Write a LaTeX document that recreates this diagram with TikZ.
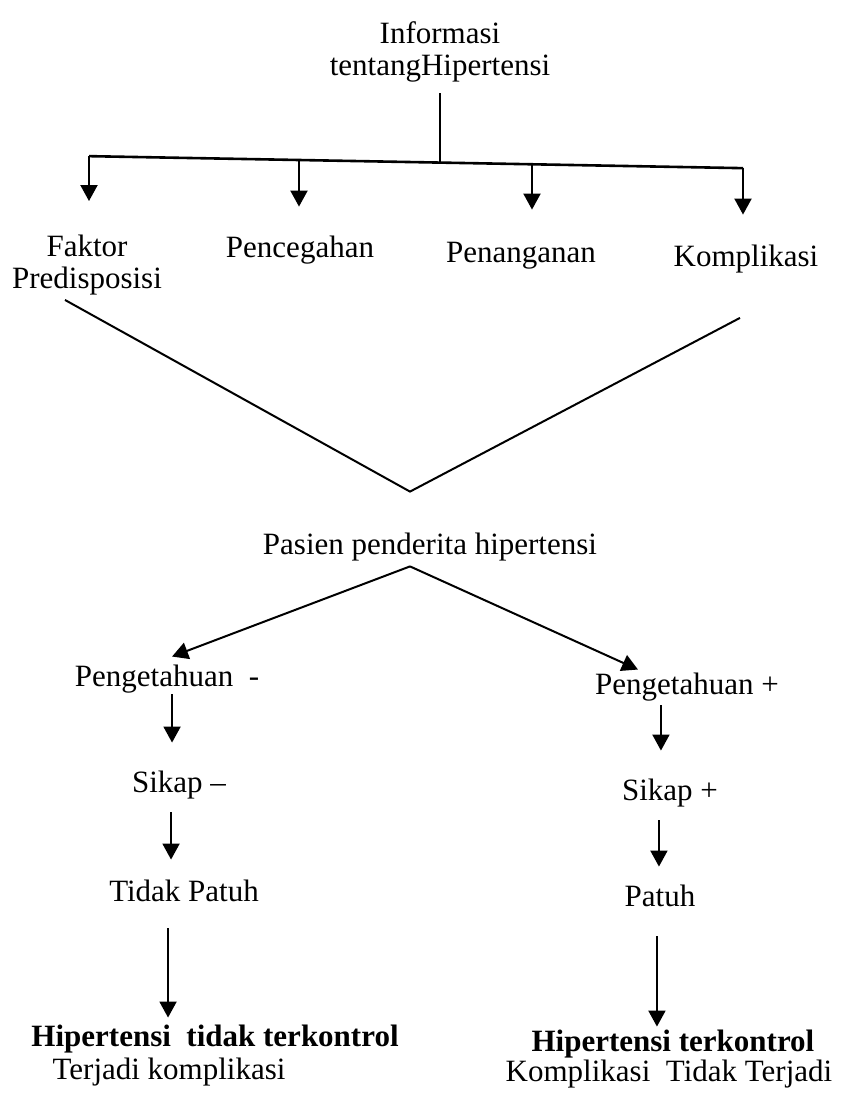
\documentclass[tikz,border=0pt]{standalone}
\usepackage{fontspec}
\setmainfont{Liberation Serif}
\usetikzlibrary{arrows.meta, positioning}

\begin{document}
\begin{tikzpicture}[node distance=53pt]
\tikzstyle{txt} = [inner sep=0pt, text height=11pt, text depth=3.5pt, font=\fontsize{15.5}{16}\selectfont]
\tikzstyle{txttwo} = [inner sep=0pt, align=center, font=\fontsize{15.5}{16}\selectfont]
\tikzstyle{link} = [line width=1pt]
\tikzstyle{arrow} = [line width=1pt, -{Triangle[length=8pt,width=8.5pt]}]

\useasboundingbox (-220pt,25.75pt) rectangle (200pt,-521.75pt);

\node (info) [txttwo] {Informasi\\tentangHipertensi};
\node (pencegahan) [txt, below of=info, xshift=-70pt, yshift=-46.5pt] {Pencegahan};
\node (penanganan) [txt, right of=pencegahan, xshift=57.5pt, yshift=-2.5pt] {Penanganan};
\node (komplikasi) [txt, right of=penanganan, xshift=59.5pt, yshift=-2pt] {Komplikasi};
\node (faktor) [txttwo, left of=pencegahan, xshift=-53.5pt, yshift=-7.5pt] {Faktor\\Predisposisi};

\node (pasien) [txt, node distance=247.5pt, below of=info, xshift=-5pt] {Pasien penderita hipertensi};

% kiri: pengetahuan kurang
\node (pengneg) [txt, below left of=pasien, xshift=-94pt, yshift=-29pt] {Pengetahuan~~-};
\node (sikapneg) [txt, below of=pengneg, xshift=6pt] {Sikap --};
\node (tidakpatuh) [txt, below of=sikapneg, xshift=2.5pt, yshift=-1.5pt] {Tidak Patuh};
\node (hneg) [txt, below of=tidakpatuh, xshift=15.5pt, yshift=-19.5pt] {\textbf{Hipertensi~~tidak terkontrol}};
\node (hnegsub) [txt, node distance=16.5pt, below of=hneg, xshift=-23pt] {Terjadi komplikasi};

% kanan: pengetahuan baik
\node (pengpos) [txt, below right of=pasien, xshift=91pt, yshift=-33pt] {Pengetahuan +};
\node (sikappos) [txt, below of=pengpos, xshift=-8.5pt] {Sikap +};
\node (patuh) [txt, below of=sikappos, xshift=-5pt] {Patuh};
\node (hpos) [txt, below of=patuh, xshift=6.5pt, yshift=-19.5pt] {\textbf{Hipertensi terkontrol}};
\node (hpossub) [txt, node distance=15pt, below of=hpos, xshift=-2pt] {Komplikasi~~Tidak Terjadi};

\coordinate (bar) at ([yshift=-40pt]info.south);
\coordinate (b1) at ([xshift=-175.5pt, yshift=3pt]bar);
\coordinate (b2) at ([xshift=-70.5pt, yshift=1pt]bar);
\coordinate (b3) at ([xshift=46pt, yshift=-1pt]bar);
\coordinate (b4) at ([xshift=151.5pt, yshift=-3pt]bar);
\coordinate (apex) at ([xshift=-10pt, yshift=20pt]pasien.north);
\coordinate (fork) at ([xshift=-10pt, yshift=-2.5pt]pasien.south);

\draw [link, shorten <=5.5pt] (info.south) -- (bar);
\draw [link, line width=1.3pt] (b1) -- (b4);
\draw [arrow, shorten >=17pt] (b1) -- (b1 |- faktor.north);
\draw [arrow, shorten >=14.5pt] (b2) -- (b2 |- pencegahan.north);
\draw [arrow, shorten >=15.5pt] (b3) -- (b3 |- penanganan.north);
\draw [arrow, shorten >=15pt] (b4) -- (b4 |- komplikasi.north);

\draw [link] ([xshift=-11pt, yshift=-2pt]faktor.south) -- (apex) -- ([xshift=-3pt, yshift=-21.75pt]komplikasi.south);

\draw [arrow] (fork) -- ([xshift=2.5pt, yshift=4pt]pengneg.north);
\draw [arrow] (fork) -- ([xshift=-24.5pt, yshift=1.5pt]pengpos.north);

\draw [arrow, shorten >=14pt] ([xshift=2.5pt]pengneg.south) -- ([xshift=2.5pt]pengneg.south |- sikapneg.north);
\draw [arrow, shorten <=6pt, shorten >=10pt] ([xshift=-4pt]sikapneg.south) -- ([xshift=-4pt]sikapneg.south |- tidakpatuh.north);
\draw [arrow, shorten <=9.5pt, shorten >=3.5pt] ([xshift=-8pt]tidakpatuh.south) -- ([xshift=-8pt]tidakpatuh.south |- hneg.north);

\draw [arrow, shorten <=1.5pt, shorten >=14pt] ([xshift=-13pt]pengpos.south) -- ([xshift=-13pt]pengpos.south |- sikappos.north);
\draw [arrow, shorten <=6pt, shorten >=9pt] ([xshift=-5.5pt]sikappos.south) -- ([xshift=-5.5pt]sikappos.south |- patuh.north);
\draw [arrow, shorten <=11pt, shorten >=1.5pt] ([xshift=-1.5pt]patuh.south) -- ([xshift=-1.5pt]patuh.south |- hpos.north);

\end{tikzpicture}
\end{document}
